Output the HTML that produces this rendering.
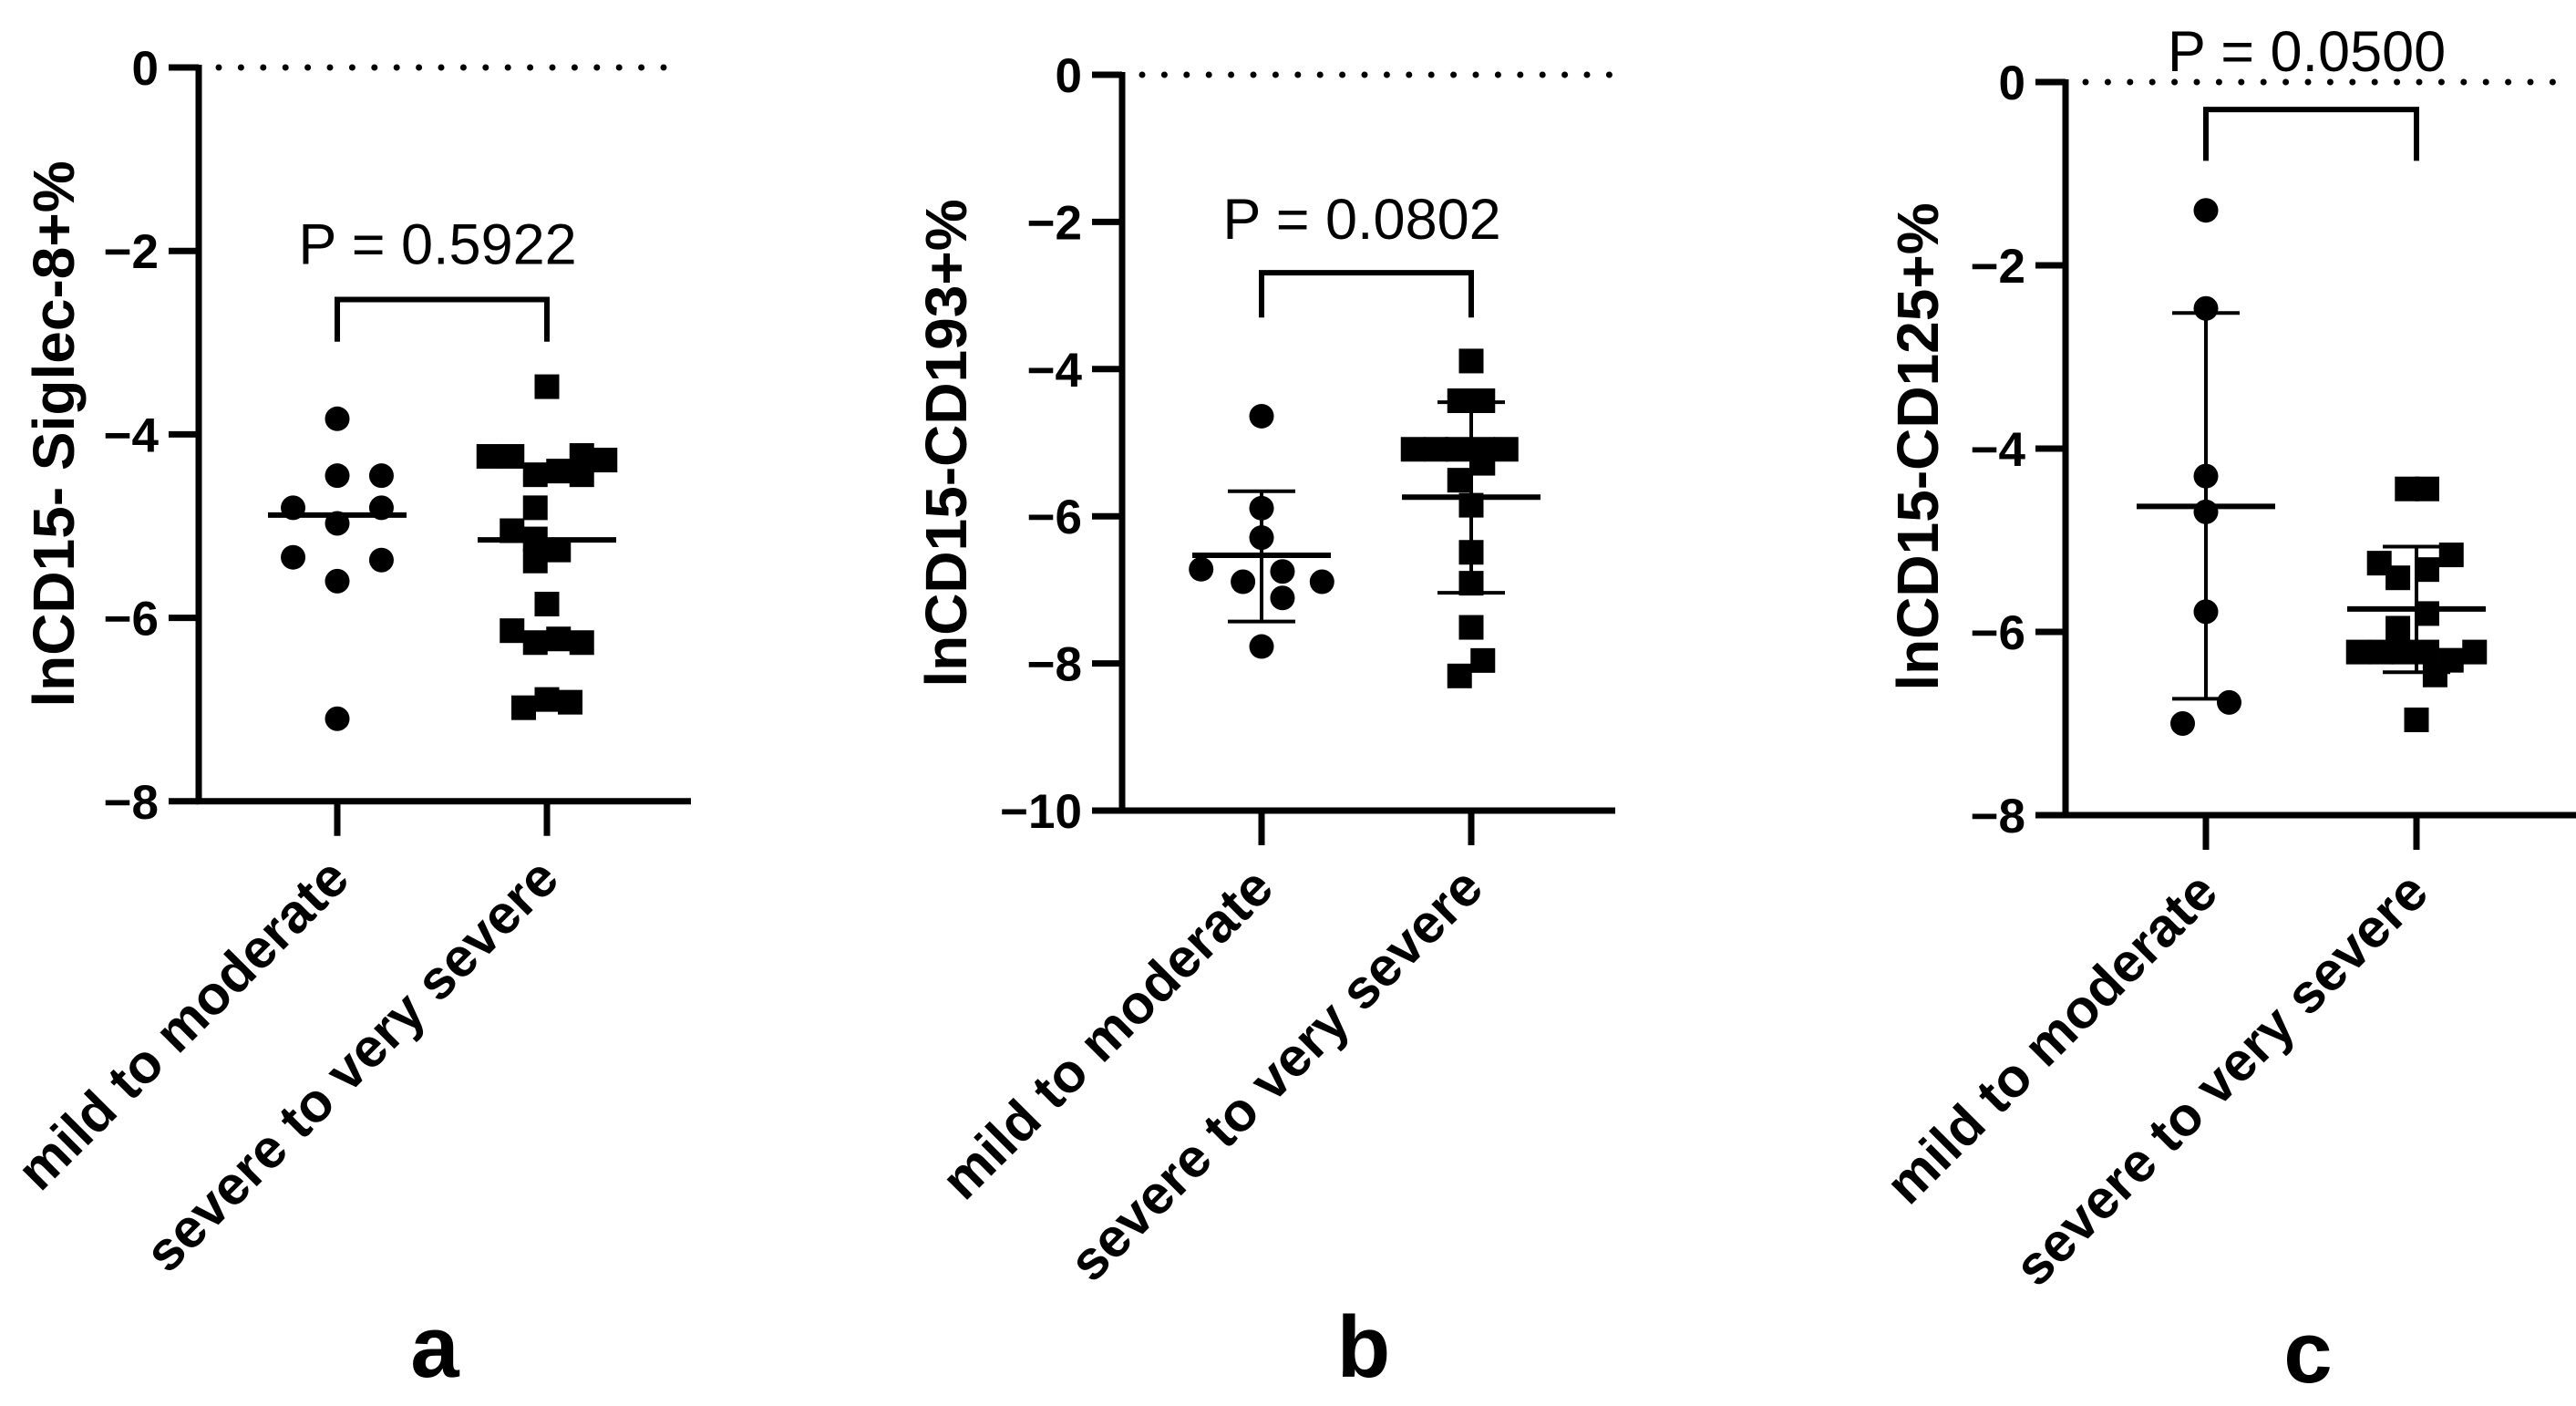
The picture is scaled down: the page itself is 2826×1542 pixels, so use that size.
<!DOCTYPE html>
<html><head><meta charset="utf-8">
<style>
html,body{margin:0;padding:0;background:#fff;}
svg{display:block;}
text{font-family:"Liberation Sans",Arial,sans-serif;fill:#000;}
</style></head>
<body>
<svg id="fig" width="2826" height="1542" viewBox="0 0 2826 1542" xmlns="http://www.w3.org/2000/svg"></svg>
<script>
// ---- data ----
const categories = ["mild to moderate", "severe to very severe"];
const panelLetters = ["a", "b", "c"];
const yTitles = ["lnCD15- Siglec-8+%", "lnCD15-CD193+%", "lnCD15-CD125+%"];
const pLabels = ["P = 0.5922", "P = 0.0802", "P = 0.0500"];
const yTicksA = [0, -2, -4, -6, -8];
const yTicksB = [0, -2, -4, -6, -8, -10];
const yTicksC = [0, -2, -4, -6, -8];

const aMild = [-3.83, -4.45, -4.45, -4.80, -4.80, -4.97, -5.34, -5.37, -5.60, -7.10];
const aMildJit = [0, 0, 1.9, -1.9, 1.9, 0, -1.9, 1.9, 0, 0];
const aSev = [-3.48, -4.24, -4.24, -4.44, -4.40, -4.23, -4.44, -4.28, -4.80, -5.05, -5.14, -5.26, -5.38, -5.85, -6.14, -6.27, -6.23, -6.27, -6.98, -6.89, -6.92];
const aSevJit = [0, -2.5, -1.5, -0.5, 0.5, 1.5, 1.5, 2.5, -0.5, -1.5, -0.5, 0.5, -0.5, 0, -1.5, -0.5, 0.5, 1.5, -1, 0, 1];
const aMean = [-4.88, -5.15];

const bMild = [-4.64, -5.89, -6.29, -6.72, -6.75, -6.89, -6.89, -7.11, -7.77];
const bMildJit = [0, 0, 0, -2.6, 0.9, -0.8, 2.6, 0.9, 0];
const bSev = [-3.89, -4.43, -4.43, -5.09, -5.09, -5.09, -5.09, -5.09, -5.28, -5.51, -5.85, -6.49, -6.91, -7.51, -7.96, -8.17];
const bSevJit = [0, -0.5, 0.5, -2.5, -1.5, -0.6, 0.5, 1.5, 0.5, -0.5, 0, 0, 0, 0, 0.5, -0.5];
const bMean = [-6.53, -5.74];
const bSdHi = [-5.66, -4.45];
const bSdLo = [-7.43, -7.04];

const cMild = [-1.40, -2.47, -4.30, -4.69, -5.78, -6.77, -7.00];
const cMildJit = [0, 0, 0, 0, 0, 1, -1];
const cSev = [-4.44, -4.44, -5.16, -5.25, -5.41, -5.32, -5.80, -5.96, -6.22, -6.22, -6.22, -6.22, -6.22, -6.31, -6.47, -6.96];
const cSevJit = [-0.4, 0.45, 1.5, -1.6, -0.8, 0.45, 0.45, -0.8, -2.5, -1.5, -0.55, 0.45, 2.5, 1.5, 0.8, 0];
const cMean = [-4.63, -5.75];
const cSdHi = [-2.52, -5.07];
const cSdLo = [-6.73, -6.44];

const bracketY = [-2.53, -2.69, -0.30];
const bracketLeg = [-2.99, -3.30, -0.86];
const pTextY = [-2.14, -2.23, 0.12];

// ---- layout (pixels) ----
const panels = [
  {ax:218, y0:74, unit:100.6, ymin:-8, xEnd:758, cx:[370,600], ticks:yTicksA, titleX:58, titleY:476, letterX:477, letterY:1510,
   mild:aMild, mj:aMildJit, sev:aSev, sj:aSevJit, mean:aMean, sdHi:null, sdLo:null},
  {ax:1231, y0:82, unit:80.7, ymin:-10, xEnd:1772, cx:[1384,1614], ticks:yTicksB, titleX:1037, titleY:486, letterX:1496, letterY:1510,
   mild:bMild, mj:bMildJit, sev:bSev, sj:bSevJit, mean:bMean, sdHi:bSdHi, sdLo:bSdLo},
  {ax:2266, y0:90, unit:100.5, ymin:-8, xEnd:2826, cx:[2420,2651], ticks:yTicksC, titleX:2103, titleY:490, letterX:2532, letterY:1516,
   mild:cMild, mj:cMildJit, sev:cSev, sj:cSevJit, mean:cMean, sdHi:cSdHi, sdLo:cSdLo}
];
const SLOT = 25.5, MK = 27;

const svg = document.getElementById('fig');
const NS = 'http://www.w3.org/2000/svg';
function mk(tag, attrs, parent){ const e=document.createElementNS(NS,tag); for(const k in attrs) e.setAttribute(k,attrs[k]); (parent||svg).appendChild(e); return e; }

panels.forEach((P, i) => {
  const g = mk('g', {});
  
  
  const Y = v => P.y0 - v * P.unit;
  const yBot = Y(P.ymin);
  const dl = mk('line', {x1:P.ax+22, y1:Y(0), x2:P.xEnd-6, y2:Y(0), stroke:'#000', 'stroke-width':7, 'stroke-dasharray':'0 24.4', 'stroke-linecap':'round'}, g);
  
  
  const ya = mk('line', {x1:P.ax, y1:Y(0)-3, x2:P.ax, y2:yBot+3, stroke:'#000', 'stroke-width':7}, g);
  
  
  const xa = mk('line', {x1:P.ax-3, y1:yBot, x2:P.xEnd, y2:yBot, stroke:'#000', 'stroke-width':7}, g);
  
  
  P.ticks.forEach(t => {
    const tl = mk('line', {x1:P.ax-33, y1:Y(t), x2:P.ax, y2:Y(t), stroke:'#000', 'stroke-width':7}, g);
    
    
    const tt = mk('text', {x:P.ax-44, y:Y(t)+19, 'text-anchor':'end', 'font-size':53, 'font-weight':'bold'}, g);
    tt.textContent = t === 0 ? '0' : '\u2212' + Math.abs(t);
    
    
  });
  const yt = mk('text', {x:0, y:0, 'text-anchor':'middle', 'font-size':64, 'font-weight':'bold', transform:`translate(${P.titleX+23},${P.titleY}) rotate(-90)`}, g);
  yt.textContent = yTitles[i];
  
  
  P.cx.forEach((cx, k) => {
    const xt = mk('line', {x1:cx, y1:yBot, x2:cx, y2:yBot+38, stroke:'#000', 'stroke-width':7}, g);
    
    
    const lb = mk('text', {x:0, y:0, 'text-anchor':'end', 'font-size':60, 'font-weight':'bold', transform:`translate(${cx+16},${yBot+88}) rotate(-45)`}, g);
    lb.textContent = categories[k];
    
    
  });
  P.mild.forEach((v, j) => {
    const c = mk('circle', {cx:P.cx[0] + P.mj[j]*SLOT, cy:Y(v), r:MK/2, fill:'#000'}, g);
    
    
  });
  P.sev.forEach((v, j) => {
    const s = mk('rect', {x:P.cx[1] + P.sj[j]*SLOT - MK/2, y:Y(v)-MK/2, width:MK, height:MK, fill:'#000'}, g);
    
    
  });
  [0,1].forEach(k => {
    const cx = P.cx[k];
    if (P.sdHi) {
      const v = mk('line', {x1:cx, y1:Y(P.sdHi[k]), x2:cx, y2:Y(P.sdLo[k]), stroke:'#000', 'stroke-width':4}, g);
      
      
      [P.sdHi[k], P.sdLo[k]].forEach(sv => {
        const cap = mk('line', {x1:cx-37, y1:Y(sv), x2:cx+37, y2:Y(sv), stroke:'#000', 'stroke-width':4}, g);
        
        
      });
    }
    const m = mk('line', {x1:cx-76, y1:Y(P.mean[k]), x2:cx+76, y2:Y(P.mean[k]), stroke:'#000', 'stroke-width':6}, g);
    
    
  });
  const br = mk('path', {d:`M${P.cx[0]},${Y(bracketLeg[i])} V${Y(bracketY[i])} H${P.cx[1]} V${Y(bracketLeg[i])}`, fill:'none', stroke:'#000', 'stroke-width':6}, g);
  
  
  const pt = mk('text', {x:(P.cx[0]+P.cx[1])/2 - 5, y:Y(pTextY[i]), 'text-anchor':'middle', 'font-size':63}, g);
  pt.textContent = pLabels[i];
  
  
  const lt = mk('text', {x:P.letterX, y:P.letterY, 'text-anchor':'middle', 'font-size':96, 'font-weight':'bold'}, g);
  lt.textContent = panelLetters[i];
  
  
});
</script>
</body></html>
